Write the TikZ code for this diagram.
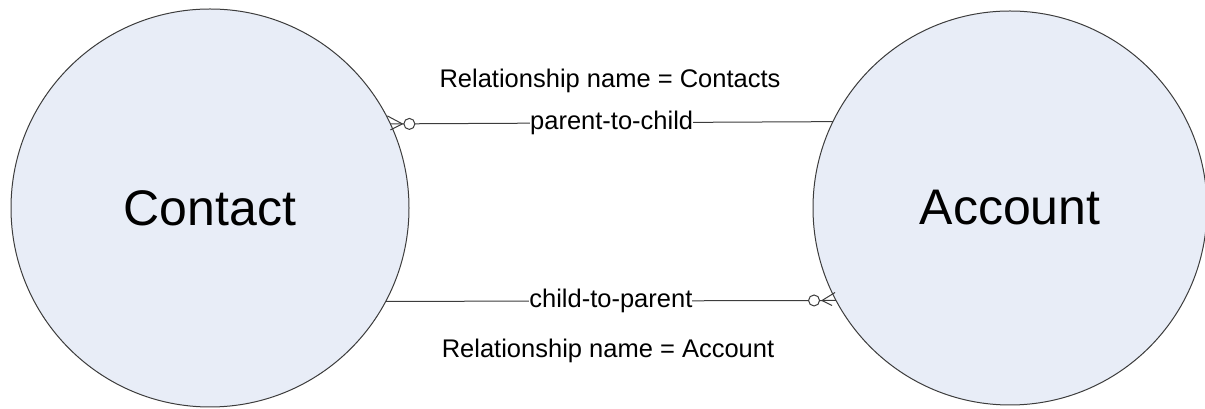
\documentclass[tikz,border=0pt]{standalone}
\usepackage{fontspec}
\setmainfont{Liberation Sans}
\usetikzlibrary{calc}
\definecolor{entfill}{RGB}{232,237,247}
\definecolor{linecol}{RGB}{60,60,60}
\begin{document}
\begin{tikzpicture}[x=1pt,y=1pt,
  entity/.style={circle,draw=linecol,line width=1pt,fill=entfill,inner sep=0pt,outer sep=0pt,font=\fontsize{50}{60}\selectfont},
  conn/.style={draw=linecol,line width=1pt},
  lbl/.style={fill=white,inner xsep=0pt,inner ysep=1pt,font=\fontsize{25.5}{30}\selectfont},
  relname/.style={font=\fontsize{25.5}{30}\selectfont},
  ring/.style={draw=linecol,line width=1pt,fill=white}]
\useasboundingbox (0,0) rectangle (1205,409);
\node[entity,minimum size=398pt] (contact) at (210,201) {Contact};
\node[entity,minimum size=394pt] (account) at (1010,201) {Account};
% parent-to-child
\coordinate (a1) at (contact.25.3);
\coordinate (b1) at (account.154.4);
\draw[conn] (a1) -- node[lbl] (p2c) {parent-to-child} (b1);
\draw[conn] ($(a1)+(12,0)$) -- ($(a1)+(-3,8)$);
\draw[conn] ($(a1)+(12,0)$) -- ($(a1)+(0,-6)$);
\draw[ring] ($(a1)+(19,0)$) circle (5.5);
\node[relname] (rn1) at (610,328) {Relationship name = Contacts};
% child-to-parent
\coordinate (a2) at (contact.-28.2);
\coordinate (b2) at (account.208.5);
\draw[conn] (a2) -- node[lbl] (c2p) {child-to-parent} (b2);
\draw[conn] ($(b2)+(-14,0)$) -- ($(b2)+(-1,8)$);
\draw[conn] ($(b2)+(-14,0)$) -- ($(b2)+(-4,-5)$);
\draw[ring] ($(b2)+(-22,0)$) circle (5.5);
\node[relname] (rn2) at (608,58) {Relationship name = Account};
\end{tikzpicture}
\end{document}
